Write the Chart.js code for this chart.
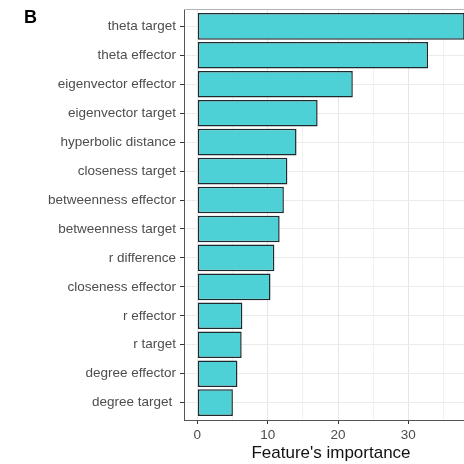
<!DOCTYPE html>
<html>
<head>
<meta charset="utf-8">
<script src="https://cdn.jsdelivr.net/npm/chart.js@4.4.1/dist/chart.umd.min.js"></script>
<style>
  html, body { margin: 0; padding: 0; background: #fff; overflow: hidden; }
  #wrap { position: relative; width: 464px; height: 464px; overflow: hidden; }
  #panelLabel { position: absolute; left: 24px; top: 7px; font: bold 18px "Liberation Sans", Arial, sans-serif; color: #000; }
</style>
</head>
<body>
<div id="wrap">
  <canvas id="importanceChart" width="480" height="464"></canvas>
  <div id="panelLabel">B</div>
</div>
<script>
// features, top to bottom
const features = [
    'theta target', 'theta effector', 'eigenvector effector', 'eigenvector target',
    'hyperbolic distance', 'closeness target', 'betweenness effector', 'betweenness target',
    'r difference', 'closeness effector', 'r effector', 'r target',
    'degree effector', 'degree target '
];
const importance = [38, 32.8, 22.1, 17.1, 14.1, 12.8, 12.3, 11.7, 10.95, 10.4, 6.4, 6.3, 5.7, 5.05];
const xTicks = [0, 5, 10, 15, 20, 25, 30, 35];

const fontFamily = '"Liberation Sans", Arial, sans-serif';

// light top border of the panel
const topBorder = {
    id: 'topBorder',
    afterDraw(chart) {
        const a = chart.chartArea;
        const ctx = chart.ctx;
        ctx.save();
        ctx.strokeStyle = '#b3b3b3';
        ctx.lineWidth = 1;
        ctx.beginPath();
        ctx.moveTo(a.left, a.top + 0.5);
        ctx.lineTo(a.right, a.top + 0.5);
        ctx.stroke();
        ctx.restore();
    }
};

const ctx = document.getElementById('importanceChart').getContext('2d');
const chart = new Chart(ctx, {
    type: 'bar',
    data: {
        datasets: [{
            data: importance.map((v, i) => ({ x: v, y: i })),
            backgroundColor: '#4ed1d6',
            borderColor: '#1f2a2e',
            borderWidth: 1.5,
            borderSkipped: false,
            barPercentage: 0.92,
            categoryPercentage: 1
        }]
    },
    options: {
        indexAxis: 'y',
        responsive: false,
        animation: false,
        layout: { padding: { top: 9, right: 2, left: 0, bottom: 0 } },
        plugins: { legend: { display: false }, tooltip: { enabled: false } },
        scales: {
            x: {
                type: 'linear',
                min: -1.9,
                max: 39.9,
                afterBuildTicks: scale => { scale.ticks = xTicks.map(v => ({ value: v })); },
                afterFit: scale => { scale.height = 44; scale.paddingLeft = 0; scale.paddingRight = 0; },
                ticks: {
                    autoSkip: false,
                    maxRotation: 0,
                    padding: 3,
                    color: '#4d4d4d',
                    font: { family: fontFamily, size: 13.5 },
                    callback: v => (v % 10 === 0 ? String(v) : '')
                },
                grid: {
                    color: c => (c.tick && c.tick.value % 10 === 0 ? '#e6e6e6' : '#f1f1f1'),
                    tickColor: c => (c.tick && c.tick.value % 10 === 0 ? '#333' : 'rgba(0,0,0,0)'),
                    tickLength: 4
                },
                border: { color: '#555', width: 1 },
                title: {
                    display: true,
                    text: "Feature's importance",
                    color: '#111',
                    font: { family: fontFamily, size: 17, lineHeight: 1 },
                    padding: { top: 0, bottom: 2 }
                }
            },
            y: {
                type: 'linear',
                reverse: true,
                offset: false,
                min: -0.6,
                max: 13.6,
                afterBuildTicks: scale => { scale.ticks = features.map((f, i) => ({ value: i })); },
                afterFit: scale => { scale.width = 184; scale.paddingTop = 0; scale.paddingBottom = 0; },
                ticks: {
                    autoSkip: false,
                    padding: 4,
                    color: '#4d4d4d',
                    font: { family: fontFamily, size: 13.5 },
                    callback: v => features[v]
                },
                grid: {
                    offset: false,
                    color: '#ebebeb',
                    tickColor: '#333',
                    tickLength: 4
                },
                border: { color: '#555', width: 1 }
            }
        }
    },
    plugins: [topBorder]
});
</script>
</body>
</html>
